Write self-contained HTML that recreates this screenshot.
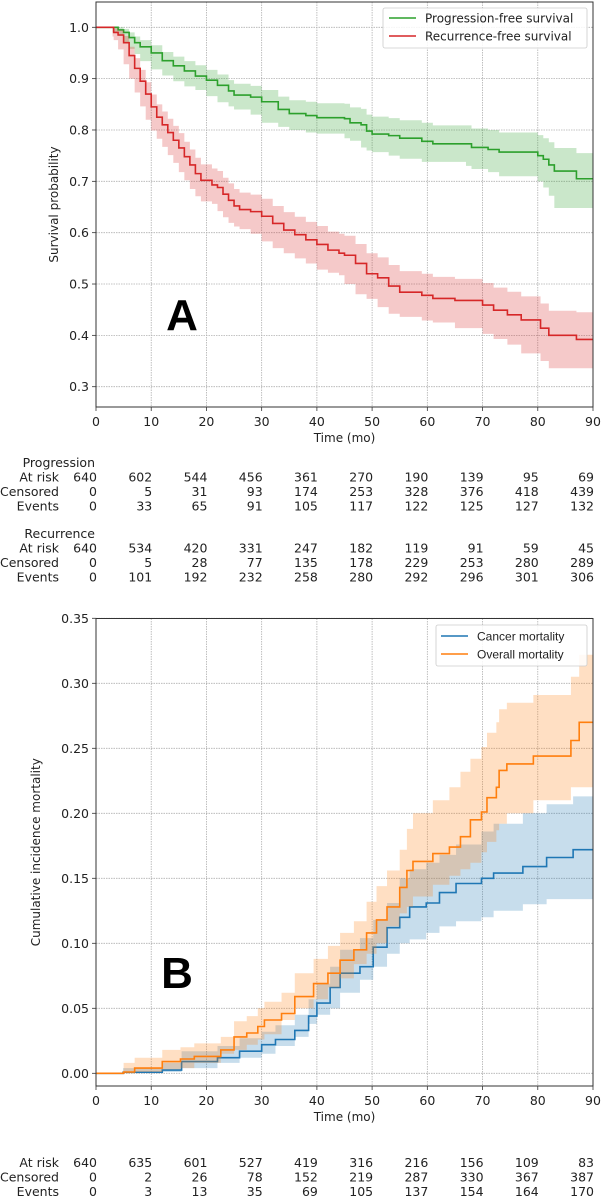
<!DOCTYPE html>
<html><head><meta charset="utf-8">
<style>
html,body{margin:0;padding:0;background:#fff;}
svg{display:block;font-family:"DejaVu Sans","Liberation Sans",sans-serif;}
</style></head>
<body>
<svg id="fig" width="601" height="1200" viewBox="0 0 601 1200" xmlns="http://www.w3.org/2000/svg"></svg>
<script>
// ---- Panel A data ----
const aTicksX = [0,10,20,30,40,50,60,70,80,90];
const aTicksY = [0.3,0.4,0.5,0.6,0.7,0.8,0.9,1.0];
const pfsT  = [0,3,4,5,6,7,8,10,12,14,16,18,20,22,24,25,28,30,33,35,38,40,45,46,48,49,50,53,55,59,61,67,68,71,73,80,81,82,83,87,90];
const pfsS  = [1,1,.995,.99,.98,.97,.962,.95,.935,.925,.915,.905,.897,.887,.876,.868,.864,.855,.84,.832,.828,.824,.822,.814,.81,.798,.792,.789,.784,.778,.773,.773,.766,.762,.757,.75,.743,.732,.72,.705,.705];
const pfsLo = [1,1,.99,.983,.97,.958,.948,.934,.918,.906,.895,.885,.878,.866,.854,.846,.84,.83,.814,.806,.8,.795,.793,.784,.779,.766,.76,.757,.75,.744,.738,.738,.73,.724,.718,.71,.7,.688,.672,.648,.648];
const pfsHi = [1,1,1,.997,.99,.982,.975,.965,.952,.943,.934,.926,.917,.908,.897,.89,.886,.878,.865,.858,.855,.852,.851,.844,.841,.83,.826,.823,.819,.814,.809,.809,.803,.8,.795,.79,.784,.776,.765,.755,.755];
const rfsT  = [0,3,3.2,4,5,6,7,8,9,10,11,12,13,14,15,16,17,18,19,21,22,23,24,25,26,28,30,32,34,36,38,40,42,44,45,47,49,51,53,55,59,61,65,70,72,74.5,77,80.5,82,87,90];
const rfsS  = [1,1,.99,.985,.97,.945,.92,.895,.87,.845,.825,.81,.795,.78,.765,.748,.732,.715,.702,.693,.688,.675,.663,.652,.645,.641,.632,.618,.605,.596,.586,.577,.566,.56,.556,.54,.52,.512,.496,.484,.478,.472,.468,.459,.449,.44,.43,.414,.4,.392,.392];
const rfsLo = [1,1,.982,.975,.957,.928,.9,.873,.846,.82,.799,.783,.767,.751,.736,.718,.702,.685,.671,.661,.656,.642,.63,.619,.612,.607,.598,.583,.57,.56,.55,.54,.528,.522,.517,.5,.48,.471,.455,.442,.436,.429,.425,.414,.403,.393,.382,.365,.35,.336,.336];
const rfsHi = [1,1,.998,.994,.983,.962,.94,.917,.893,.869,.85,.836,.822,.808,.794,.777,.762,.746,.733,.725,.72,.707,.696,.685,.678,.674,.666,.652,.64,.631,.621,.613,.602,.598,.594,.578,.56,.552,.537,.525,.52,.514,.51,.502,.493,.485,.476,.462,.448,.445,.445];
const progAtRisk = [640,602,544,456,361,270,190,139,95,69];
const progCens   = [0,5,31,93,174,253,328,376,418,439];
const progEvents = [0,33,65,91,105,117,122,125,127,132];
const recAtRisk  = [640,534,420,331,247,182,119,91,59,45];
const recCens    = [0,5,28,77,135,178,229,253,280,289];
const recEvents  = [0,101,192,232,258,280,292,296,301,306];
// ---- Panel B data ----
const bTicksY = [0,0.05,0.10,0.15,0.20,0.25,0.30,0.35];
const bTickLabels = ["0.00","0.05","0.10","0.15","0.20","0.25","0.30","0.35"];
const canT  = [0,4.9,12,15.5,22,26,30,32.5,36,38.5,40,42.4,44.2,47.8,50.2,52.7,55,56.8,59.8,62.2,65.2,69.8,72,77.3,81.6,86.4,90];
const canV  = [0,.0008,.0025,.009,.012,.017,.022,.026,.033,.044,.054,.066,.077,.082,.097,.112,.12,.128,.131,.139,.146,.15,.154,.159,.166,.172,.172];
const canLo = [0,0,0,.001,.004,.008,.012,.015,.021,.028,.038,.045,.05,.062,.072,.082,.092,.1,.103,.108,.113,.117,.12,.125,.13,.134,.134];
const canHi = [0,.004,.008,.017,.021,.027,.032,.037,.045,.057,.069,.082,.095,.104,.118,.131,.15,.157,.162,.168,.176,.186,.192,.2,.207,.213,.213];
const allT  = [0,5,7,12,15.3,17.8,22.6,25,27.3,29.3,30.5,33.6,36,39.4,42,44.2,46.7,49,50.8,52.7,55,56.3,57.4,61,64,66,67.8,69.8,70.8,72.5,73,74.4,79.2,86,87.5,90];
const allV  = [0,.001,.004,.009,.011,.013,.018,.028,.031,.036,.041,.046,.059,.069,.077,.087,.095,.108,.118,.128,.143,.156,.163,.169,.174,.182,.195,.201,.212,.22,.233,.238,.244,.256,.27,.27];
const allLo = [0,0,0,.001,.003,.004,.008,.015,.018,.022,.026,.03,.041,.05,.057,.066,.073,.084,.092,.1,.113,.123,.128,.136,.145,.152,.157,.162,.17,.178,.187,.192,.2,.21,.22,.22];
const allHi = [0,.008,.012,.018,.02,.023,.028,.04,.044,.05,.055,.062,.077,.088,.098,.108,.117,.132,.144,.156,.172,.188,.2,.21,.22,.232,.242,.251,.262,.27,.28,.285,.291,.305,.322,.322];
const bAtRisk = [640,635,601,527,419,316,216,156,109,83];
const bCens   = [0,2,26,78,152,219,287,330,367,387];
const bEvents = [0,3,13,35,69,105,137,154,164,170];

const NS="http://www.w3.org/2000/svg";
const svg=document.getElementById('fig');
function mk(tag,attrs,parent,text){const e=document.createElementNS(NS,tag);for(const k in attrs)e.setAttribute(k,attrs[k]);if(text!==undefined)e.textContent=text;(parent||svg).appendChild(e);return e;}

const X0=96,X1=593;
const xs=t=>X0+(t/90)*(X1-X0);
const yA=v=>27.3+(1.0-v)*(386.7-27.3)/0.7;
const yB=v=>1073.3-v*1300;

function stepPath(T,V,ys){let d=`M${xs(T[0])},${ys(V[0])}`;for(let i=1;i<T.length;i++){d+=`H${xs(T[i])}V${ys(V[i])}`;}return d;}
function bandPath(T,L,H,ys){let d=`M${xs(T[0])},${ys(H[0])}`;for(let i=1;i<T.length;i++){d+=`H${xs(T[i])}V${ys(H[i])}`;}
  d+=`V${ys(L[L.length-1])}`;for(let i=T.length-1;i>0;i--){d+=`V${ys(L[i])}H${xs(T[i-1])}`;}d+=`V${ys(L[0])}Z`;return d;}

function panel(top,bottom,ticksY,labelsY,ys,yLabel,yLabelX){
  const g=mk('g',{});
  
  
  aTicksX.forEach(t=>{const l=mk('line',{x1:xs(t),x2:xs(t),y1:top,y2:bottom,stroke:'#b0b0b0','stroke-width':0.8,'stroke-dasharray':'1.5,1'},g);
    
    });
  ticksY.forEach((v,i)=>{const l=mk('line',{x1:X0,x2:X1,y1:ys(v),y2:ys(v),stroke:'#b0b0b0','stroke-width':0.8,'stroke-dasharray':'1.5,1'},g);
    
    
    mk('line',{x1:X0-4,x2:X0,y1:ys(v),y2:ys(v),stroke:'#333','stroke-width':0.8},g);
    const tx=mk('text',{x:X0-7,y:ys(v)+4.5,'text-anchor':'end','font-size':12.5,fill:'#222'},g,labelsY[i]);
    
    });
  aTicksX.forEach(t=>{mk('line',{x1:xs(t),x2:xs(t),y1:bottom,y2:bottom+4,stroke:'#333','stroke-width':0.8},g);
    const tx=mk('text',{x:xs(t),y:bottom+19,'text-anchor':'middle','font-size':12.5,fill:'#222'},g,String(t));
    
    });
  const xt=mk('text',{x:(X0+X1)/2,y:bottom+35,'text-anchor':'middle','font-size':12,fill:'#222'},g,'Time (mo)');
  
  
  const cy=(top+bottom)/2;
  const yt=mk('text',{x:yLabelX,y:cy,'text-anchor':'middle','font-size':12,fill:'#222',transform:`rotate(-90 ${yLabelX} ${cy})`},g,yLabel);
  
  
  return g;
}
function frame(top,bottom){const r=mk('rect',{x:X0,y:top,width:X1-X0,height:bottom-top,fill:'none',stroke:'#333','stroke-width':1});
  
  }
function series(T,V,L,H,ys,color,name){
  const b=mk('path',{d:bandPath(T,L,H,ys),fill:color,'fill-opacity':0.25,stroke:'none'});
  
  
  const p=mk('path',{d:stepPath(T,V,ys),fill:'none',stroke:color,'stroke-width':1.6});
  
  
}
function table(rows,startY,fontFam){
  rows.forEach((r,ri)=>{const y=startY+ri*14.5;
    const lb=mk('text',{x:r.lx,y:y,'text-anchor':'end','font-size':12.5,fill:'#222','font-family':fontFam},svg,r.label);
    
    
    if(r.vals) r.vals.forEach((v,i)=>{const t=mk('text',{x:xs(aTicksX[i])+1,y:y,'text-anchor':'end','font-size':12.5,fill:'#222','font-family':fontFam},svg,String(v));
      
      });
  });
}

// ---- Panel A ----
const A_TOP=2,A_BOT=407;
panel(A_TOP,A_BOT,aTicksY,aTicksY.map(v=>v.toFixed(1)),yA,'Survival probability',58);
series(pfsT,pfsS,pfsLo,pfsHi,yA,'#2ca02c','progression-free');
series(rfsT,rfsS,rfsLo,rfsHi,yA,'#d62728','recurrence-free');
frame(A_TOP,A_BOT);
const la=mk('g',{});


mk('rect',{x:383,y:8,width:204,height:40,rx:2,fill:'#fff','fill-opacity':0.85,stroke:'#ccc','stroke-width':0.8},la);
mk('line',{x1:389,x2:416,y1:18,y2:18,stroke:'#2ca02c','stroke-width':1.6},la);
mk('line',{x1:389,x2:416,y1:36,y2:36,stroke:'#d62728','stroke-width':1.6},la);
const e1=mk('text',{x:425,y:22.5,'font-size':12,fill:'#222'},la,'Progression-free survival');


const e2=mk('text',{x:425,y:40.5,'font-size':12,fill:'#222'},la,'Recurrence-free survival');


const LA=mk('text',{x:182,y:330,'text-anchor':'middle','font-size':44,'font-weight':'bold',fill:'#000','font-family':'Liberation Sans, sans-serif'},svg,'A');



table([{label:'Progression',lx:95},{label:'At risk',lx:59,vals:progAtRisk},{label:'Censored',lx:59,vals:progCens},{label:'Events',lx:59,vals:progEvents}],467,'DejaVu Sans, sans-serif');
table([{label:'Recurrence',lx:95},{label:'At risk',lx:59,vals:recAtRisk},{label:'Censored',lx:59,vals:recCens},{label:'Events',lx:59,vals:recEvents}],538,'DejaVu Sans, sans-serif');

// ---- Panel B ----
const B_TOP=618.5,B_BOT=1086;
panel(B_TOP,B_BOT,bTicksY,bTickLabels,yB,'Cumulative incidence mortality',40);
series(canT,canV,canLo,canHi,yB,'#1f77b4','cancer-mortality');
series(allT,allV,allLo,allHi,yB,'#ff7f0e','overall-mortality');
frame(B_TOP,B_BOT);
const lb=mk('g',{});


mk('rect',{x:436,y:625,width:151,height:41,rx:2,fill:'#fff','fill-opacity':0.85,stroke:'#ccc','stroke-width':0.8},lb);
mk('line',{x1:441,x2:468,y1:636,y2:636,stroke:'#1f77b4','stroke-width':1.6},lb);
mk('line',{x1:441,x2:468,y1:654,y2:654,stroke:'#ff7f0e','stroke-width':1.6},lb);
const e3=mk('text',{x:477,y:640.5,'font-size':12,fill:'#222','font-family':'Liberation Sans, sans-serif'},lb,'Cancer mortality');


const e4=mk('text',{x:477,y:658.5,'font-size':12,fill:'#222','font-family':'Liberation Sans, sans-serif'},lb,'Overall mortality');


const LB=mk('text',{x:177,y:988,'text-anchor':'middle','font-size':44,'font-weight':'bold',fill:'#000','font-family':'Liberation Sans, sans-serif'},svg,'B');



table([{label:'At risk',lx:59,vals:bAtRisk},{label:'Censored',lx:59,vals:bCens},{label:'Events',lx:59,vals:bEvents}],1167,'DejaVu Sans, sans-serif');
</script>
</body></html>
